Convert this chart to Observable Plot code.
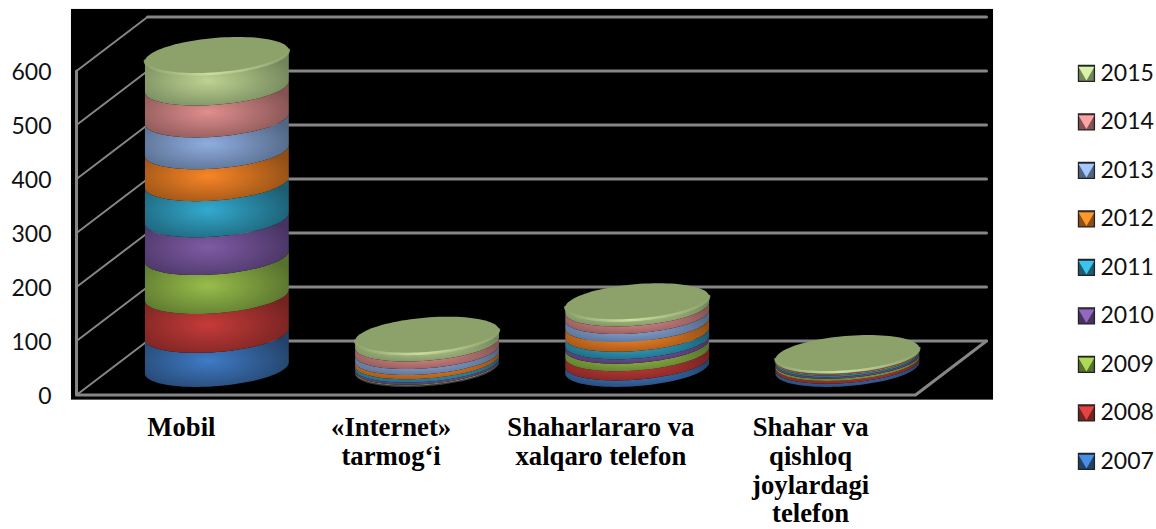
<!DOCTYPE html>
<html>
<head>
<meta charset="utf-8">
<style>html,body{margin:0;padding:0;background:#fff;overflow:hidden}</style>
<script src="https://cdn.jsdelivr.net/npm/d3@7"></script>
<script src="https://cdn.jsdelivr.net/npm/@observablehq/plot@0.6"></script>
</head>
<body>
<div id="chart"></div>
<script>
const years = [2007, 2008, 2009, 2010, 2011, 2012, 2013, 2014, 2015];
const categories = ["Mobil", "«Internet»\ntarmog‘i", "Shaharlararo va\nxalqaro telefon", "Shahar va\nqishloq\njoylardagi\ntelefon"];
const mobil = [63, 72, 72, 70, 67, 59, 59, 59, 57];
const internet = [1, 1, 2, 4, 6, 8, 11, 14, 13];
const intercity = [12, 17, 14, 8, 14, 18, 15, 14, 10];
const localPhone = [6, 5, 4, 3, 3, 2, 1, 1, 1];
const yTicks = [0, 100, 200, 300, 400, 500, 600];
const centerColors = ["#3f7bc6", "#c53b39", "#98bd4a", "#7f5ba5", "#33aacf", "#f98526", "#8eade0", "#e08e8e", "#bdd292"];
const edgeColors = ["#234268", "#742321", "#56702d", "#473361", "#1c5c70", "#8f4e16", "#526684", "#835252", "#71845a"];
const series = [mobil, internet, intercity, localPhone];

// oblique 3D depth of the chart box, in x and y scale units
const depthX = 0.3385, depthY = 100;
const A = 0.328, B = 0.1, D = 35;
const t0 = Math.atan2(B, A);
const N = 48;
const pt = (cx, v, t) => ({x: cx + A * Math.cos(t) + B * Math.sin(t), y: v + D * Math.sin(t)});
const front = (cx, v) => d3.range(N + 1).map(k => pt(cx, v, t0 + Math.PI + Math.PI * k / N));
const ring = (cx, v) => d3.range(2 * N + 1).map(k => pt(cx, v, Math.PI * k / N));

const grid = "#868686";
const font = "Lato, sans-serif";

const defs = () => {
  const d = d3.create("svg:defs");
  years.forEach((y, i) => {
    const g = d.append("radialGradient").attr("id", "band" + y)
      .attr("cx", 0.44).attr("cy", 0.55).attr("r", 0.62);
    g.append("stop").attr("offset", "0%").attr("stop-color", centerColors[i]);
    g.append("stop").attr("offset", "100%").attr("stop-color", edgeColors[i]);
  });
  const lip = d.append("linearGradient").attr("id", "lip");
  lip.append("stop").attr("offset", "0%").attr("stop-color", "#8ea36c");
  lip.append("stop").attr("offset", "45%").attr("stop-color", "#d2e6a4");
  lip.append("stop").attr("offset", "100%").attr("stop-color", "#8ea36c");
  return d.node();
};

const marks = [defs];
marks.push(Plot.rect([0], {x1: () => -0.024, x2: () => 4.372, y1: () => -9.5, y2: () => 714, fill: "#000"}));

// walls and floor
yTicks.forEach(v => {
  marks.push(Plot.line([[0, v], [depthX, v + depthY]], {x: d => d[0], y: d => d[1], stroke: grid, strokeWidth: 2}));
  marks.push(Plot.line([[depthX, v + depthY], [4 + depthX, v + depthY]], {x: d => d[0], y: d => d[1], stroke: grid, strokeWidth: 3}));
});
marks.push(Plot.line([[0, 600], [0, 0], [4, 0], [4 + depthX, depthY]], {x: d => d[0], y: d => d[1], stroke: grid, strokeWidth: 3}));

// cylinders
series.forEach((vals, c) => {
  const cx = c * 1.002 + 0.5 + depthX / 2;
  const base = depthY / 2;
  let v = base;
  vals.forEach((h, i) => {
    const lower = front(cx, v), upper = front(cx, v + h).reverse();
    marks.push(Plot.line([...lower, ...upper], {x: "x", y: "y", fill: `url(#band${years[i]})`, stroke: "none"}));
    v += h;
  });
  marks.push(Plot.line(ring(cx, v), {x: "x", y: "y", fill: "#8da16b", stroke: "none"}));
  marks.push(Plot.line(front(cx, v + 1), {x: "x", y: "y", stroke: "url(#lip)", strokeWidth: 2.5, strokeOpacity: 0.9}));
});

// y axis and category labels
marks.push(Plot.axisY(yTicks, {anchor: "left", tickSize: 0, tickPadding: 25, label: null, fontSize: 23, dy: 1.5, fontFamily: font, fill: "#111"}));
marks.push(Plot.text(categories, {
  x: (d, i) => i + 0.5, y: () => -38, text: d => d,
  textAnchor: "middle", lineAnchor: "top", lineHeight: 1.08,
  fontFamily: "'Liberation Serif', serif", fontWeight: "bold", fontSize: 26.7, fill: "#000"
}));

// legend
const legendX = 4.815, legendBottom = -123, legendStep = 89.8;
const legendY = (d, i) => legendBottom + i * legendStep;
marks.push(Plot.dot(years, {x: () => legendX, y: legendY, symbol: "square", r: 9, fill: (d) => edgeColors[years.indexOf(d)], stroke: "#222", strokeWidth: 1.3}));
marks.push(Plot.dot(years, {x: () => legendX, y: legendY, symbol: "triangle2", rotate: 180, r: 7.5, dy: -2, fill: (d) => d3.color(centerColors[years.indexOf(d)]).brighter(0.4).formatHex(), stroke: "none"}));
marks.push(Plot.text(years, {x: () => legendX, y: legendY, text: d => String(d), dx: 14, textAnchor: "start", fontSize: 23, fontFamily: font, fill: "#111"}));

const chart = Plot.plot({
  width: 1156, height: 529,
  marginLeft: 76, marginRight: 241, marginTop: 70.5, marginBottom: 134.5,
  x: {domain: [0, 4], axis: null},
  y: {domain: [0, 600], axis: null},
  color: {type: "identity"},
  style: {background: "#fff", color: "#000"},
  marks
});
document.getElementById("chart").append(chart);
</script>
</body>
</html>
